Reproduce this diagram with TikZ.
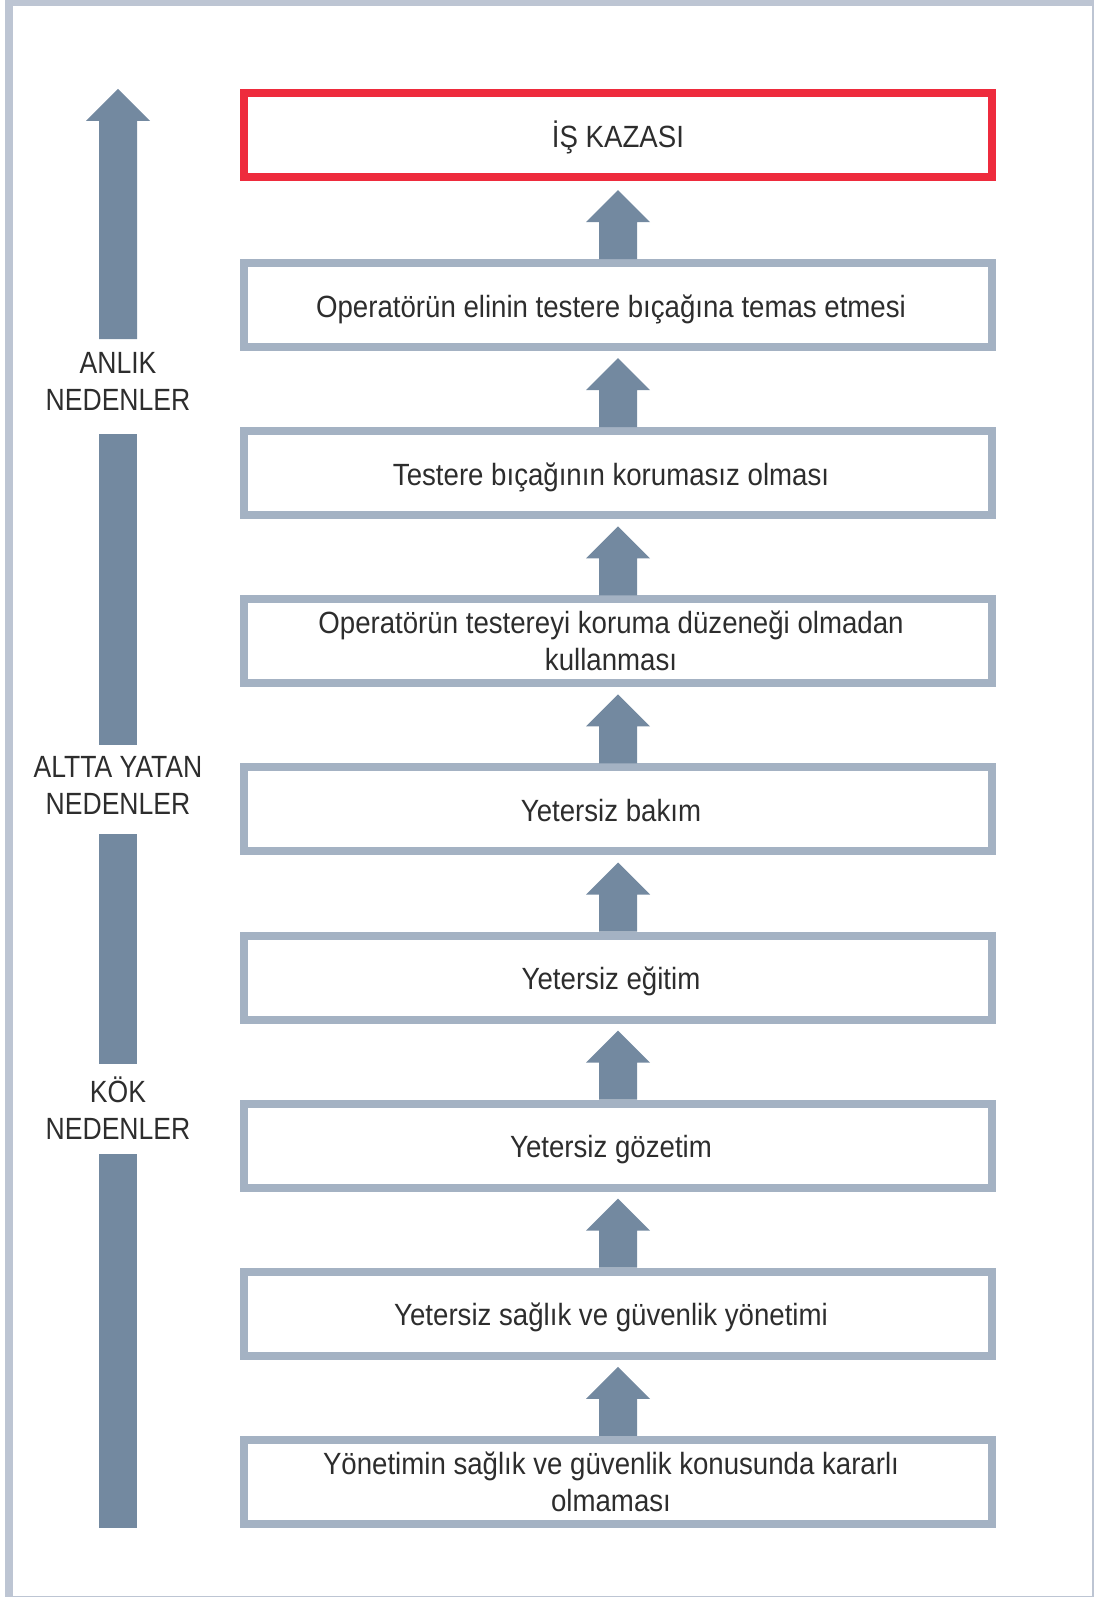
\documentclass[tikz,border=0pt]{standalone}
\usepackage{fontspec}
\setmainfont{Liberation Sans}[FakeStretch=0.9]
\newfontfamily\levelfont{Liberation Sans}[FakeStretch=0.865]
\usetikzlibrary{calc}
\definecolor{framegrey}{RGB}{189,197,211}
\definecolor{boxgrey}{RGB}{164,178,195}
\definecolor{arrowslate}{RGB}{115,137,160}
\definecolor{alarmred}{RGB}{238,43,61}
\definecolor{textdark}{RGB}{45,45,45}

\begin{document}
\begin{tikzpicture}[
    x=1pt, y=-1pt,
    every node/.style={font=\fontsize{30.7}{37}\selectfont, text=textdark},
    cause/.style={rectangle, draw=boxgrey, line width=8pt,
        minimum width=748pt, minimum height=84pt, inner sep=0pt},
    event/.style={cause, draw=alarmred},
    causetext/.style={align=center, inner sep=0pt},
    oneline/.style={causetext, anchor=base},
    level/.style={align=center, inner sep=0pt,
        font=\levelfont\fontsize{30.7}{37}\selectfont},
    blockarrow/.style={fill=arrowslate},
]
\useasboundingbox (0,0) rectangle (1094,1597);
\draw[framegrey, line width=8pt] (9,2) rectangle (1095.7,1600);

% ===== RIGHT: chain of causes =====
\node[event] (b1) at (618,135.5)  {};
\node[cause] (b2) at (618,305.1)  {};
\node[cause] (b3) at (618,473.2)  {};
\node[cause] (b4) at (618,641.3)  {};
\node[cause] (b5) at (618,809.4)  {};
\node[cause] (b6) at (618,977.5)  {};
\node[cause] (b7) at (618,1145.6) {};
\node[cause] (b8) at (618,1313.7) {};
\node[cause] (b9) at (618,1481.8) {};

% single lines sit on a baseline 12px below the box centre
\node[oneline] (t1) at ([yshift=-12pt]b1.center) {İŞ KAZASI};
\node[oneline] (t2) at ([xshift=-7pt,yshift=-12pt]b2.center)
    {Operatörün elinin testere bıçağına temas etmesi};
\node[oneline] (t3) at ([xshift=-7pt,yshift=-12pt]b3.center)
    {Testere bıçağının korumasız olması};
\node[causetext] (t4) at ([xshift=-7pt]b4.center)
    {Operatörün testereyi koruma düzeneği olmadan\\kullanması};
\node[oneline] (t5) at ([xshift=-7pt,yshift=-12pt]b5.center) {Yetersiz bakım};
\node[oneline] (t6) at ([xshift=-7pt,yshift=-12pt]b6.center) {Yetersiz eğitim};
\node[oneline] (t7) at ([xshift=-7pt,yshift=-12pt]b7.center) {Yetersiz gözetim};
\node[oneline] (t8) at ([xshift=-7pt,yshift=-12pt]b8.center)
    {Yetersiz sağlık ve güvenlik yönetimi};
\node[causetext] (t9) at ([xshift=-7pt]b9.center)
    {Yönetimin sağlık ve güvenlik konusunda kararlı\\olmaması};

% block arrows: shaft stands on the lower box, tip points at the upper one
\foreach \lo in {b2, b3, b4, b5, b6, b7, b8, b9}
    \fill[blockarrow] (\lo.north) ++(-19,0) -- ++(0,-37) -- ++(-13,0)
        -- ++(32,-32) -- ++(32,32) -- ++(-13,0) -- ++(0,37) -- cycle;

% ===== LEFT: scale of levels =====
\fill[blockarrow] (118,89) -- (150,121) -- (137,121) -- (137,339)
    -- (99,339) -- (99,121) -- (86,121) -- cycle;
\fill[blockarrow] (99,434)  rectangle (137,744.5);
\fill[blockarrow] (99,834)  rectangle (137,1064);
\fill[blockarrow] (99,1154) rectangle (137,1528);

\node[level] (anlik) at (118,381)  {ANLIK\\NEDENLER};
\node[level] (altta) at (118,785)  {ALTTA YATAN\\NEDENLER};
\node[level] (kok)   at (118,1108) {KÖK\\NEDENLER};

\end{tikzpicture}
\end{document}
